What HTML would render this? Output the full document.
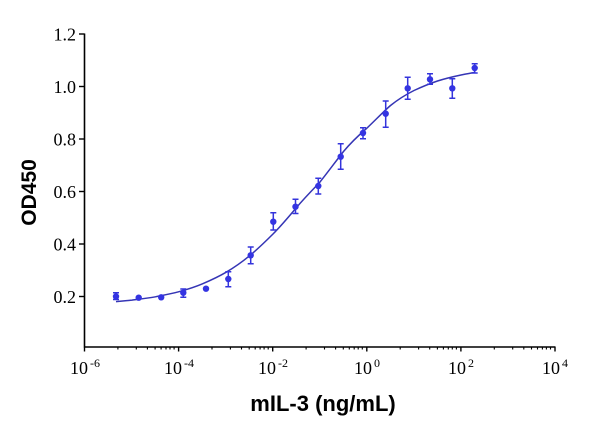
<!DOCTYPE html>
<html>
<head>
<meta charset="utf-8">
<style>
html,body{margin:0;padding:0;background:#fff}
svg{display:block}
</style>
</head>
<body>
<svg width="600" height="426" viewBox="0 0 600 426" xmlns="http://www.w3.org/2000/svg">
<rect width="600" height="426" fill="#fff"/>
<g stroke="#000" stroke-width="1.6" fill="none">
<line x1="84.5" y1="33.5" x2="84.5" y2="347.5"/>
<line x1="84" y1="347" x2="555.5" y2="347"/>
</g>
<g stroke="#000" stroke-width="1.4">
<line x1="79" y1="34" x2="84.5" y2="34"/>
<line x1="79" y1="86.5" x2="84.5" y2="86.5"/>
<line x1="79" y1="139" x2="84.5" y2="139"/>
<line x1="79" y1="191.5" x2="84.5" y2="191.5"/>
<line x1="79" y1="244" x2="84.5" y2="244"/>
<line x1="79" y1="296.5" x2="84.5" y2="296.5"/>
</g>
<g font-family="'Liberation Serif', serif" font-size="18" fill="#000" text-anchor="end">
<text x="76" y="40.5">1.2</text>
<text x="76" y="93">1.0</text>
<text x="76" y="145.5">0.8</text>
<text x="76" y="198">0.6</text>
<text x="76" y="250.5">0.4</text>
<text x="76" y="303">0.2</text>
</g>
<g stroke="#000" stroke-width="1.4">
<line x1="84.5" y1="347" x2="84.5" y2="351.5"/>
<line x1="178.6" y1="347" x2="178.6" y2="351.5"/>
<line x1="272.7" y1="347" x2="272.7" y2="351.5"/>
<line x1="366.8" y1="347" x2="366.8" y2="351.5"/>
<line x1="460.9" y1="347" x2="460.9" y2="351.5"/>
<line x1="555" y1="347" x2="555" y2="351.5"/>
</g>
<g stroke="#000" stroke-width="1.1">
<path d="M117.9,347v2.5M136.3,347v2.5M147.4,347v2.5M155.1,347v2.5M161.1,347v2.5M166,347v2.5M170,347v2.5M174.1,347v2.5"/>
<path d="M212,347v2.5M230.4,347v2.5M241.5,347v2.5M249.2,347v2.5M255.2,347v2.5M260.1,347v2.5M264.1,347v2.5M268.2,347v2.5"/>
<path d="M306.1,347v2.5M324.5,347v2.5M335.6,347v2.5M343.3,347v2.5M349.3,347v2.5M354.2,347v2.5M358.2,347v2.5M362.3,347v2.5"/>
<path d="M400.2,347v2.5M418.6,347v2.5M429.7,347v2.5M437.4,347v2.5M443.4,347v2.5M448.3,347v2.5M452.3,347v2.5M456.4,347v2.5"/>
<path d="M494.3,347v2.5M512.7,347v2.5M523.8,347v2.5M531.5,347v2.5M537.5,347v2.5M542.4,347v2.5M546.4,347v2.5M550.5,347v2.5"/>
</g>
<g font-family="'Liberation Serif', serif" font-size="18" fill="#000" text-anchor="middle">
<text x="85" y="374">10<tspan dx="2" dy="-7" font-size="12">-6</tspan></text>
<text x="179" y="374">10<tspan dx="2" dy="-7" font-size="12">-4</tspan></text>
<text x="273" y="374">10<tspan dx="2" dy="-7" font-size="12">-2</tspan></text>
<text x="367" y="374">10<tspan dx="2" dy="-7" font-size="12">0</tspan></text>
<text x="461" y="374">10<tspan dx="2" dy="-7" font-size="12">2</tspan></text>
<text x="555" y="374">10<tspan dx="2" dy="-7" font-size="12">4</tspan></text>
</g>
<text x="323" y="411" font-family="'Liberation Sans', Arial, sans-serif" font-weight="bold" font-size="22" text-anchor="middle" fill="#000">mIL-3 (ng/mL)</text>
<text transform="translate(36,192.5) rotate(-90)" font-family="'Liberation Sans', Arial, sans-serif" font-weight="bold" font-size="21" text-anchor="middle" fill="#000">OD450</text>
<path d="M116,301.6 C121,301.1 127,300.6 132,300.1 C140,299.1 148,298.2 155.5,296.8 C163,295.3 171,293.8 179,291.7 C187,289.5 195,287 202.5,283.8 C210,280.6 218,277 226,272.3 C234,267.6 242,262 249.5,255.8 C257,249.6 265,242 273,234 C281,226 289,216.5 296.5,207.5 C304,198.5 312,190.5 320,182 C328,172 336,161 343.5,151.5 C351,142.5 359,135 367,128 C375,120.5 383,112 390.5,105.5 C398,99.5 406,94.5 414,90.5 C422,86.8 430,83.5 437.5,81 C445,78.6 453,76.7 461,75 C466,74 470,73.2 474.6,72.5" fill="none" stroke="#3535b5" stroke-width="1.5"/>
<g stroke="#3434dc" stroke-width="1.5" fill="none">
<path d="M116,292.7V299.5M113,292.7h6M113,299.5h6"/>
<path d="M183.3,289V297.3M180.3,289h6M180.3,297.3h6"/>
<path d="M228.3,271.7V286.7M225.3,271.7h6M225.3,286.7h6"/>
<path d="M250.7,247V263.7M247.7,247h6M247.7,263.7h6"/>
<path d="M273.3,212.7V230M270.3,212.7h6M270.3,230h6"/>
<path d="M295.5,199.3V213.5M292.5,199.3h6M292.5,213.5h6"/>
<path d="M318.3,178.3V194M315.3,178.3h6M315.3,194h6"/>
<path d="M340.7,143.7V169.3M337.7,143.7h6M337.7,169.3h6"/>
<path d="M363,127.7V138.7M360,127.7h6M360,138.7h6"/>
<path d="M385.7,101V127.3M382.7,101h6M382.7,127.3h6"/>
<path d="M407.7,77.3V99.3M404.7,77.3h6M404.7,99.3h6"/>
<path d="M430,73.7V84.3M427,73.7h6M427,84.3h6"/>
<path d="M452.3,78.7V98.3M449.3,78.7h6M449.3,98.3h6"/>
<path d="M474.7,63.7V73M471.7,63.7h6M471.7,73h6"/>
</g>
<g fill="#3434e2">
<circle cx="116" cy="296.5" r="3.2"/>
<circle cx="138.7" cy="297.7" r="3.2"/>
<circle cx="161.2" cy="297.3" r="3.2"/>
<circle cx="183.3" cy="292.7" r="3.2"/>
<circle cx="206" cy="288.7" r="3.2"/>
<circle cx="228.3" cy="279" r="3.2"/>
<circle cx="250.7" cy="255.3" r="3.2"/>
<circle cx="273.3" cy="221.7" r="3.2"/>
<circle cx="295.5" cy="206.7" r="3.2"/>
<circle cx="318.3" cy="186" r="3.2"/>
<circle cx="340.7" cy="156.7" r="3.2"/>
<circle cx="363" cy="133" r="3.2"/>
<circle cx="385.7" cy="113.7" r="3.2"/>
<circle cx="407.7" cy="88.3" r="3.2"/>
<circle cx="430" cy="79.3" r="3.2"/>
<circle cx="452.3" cy="88.3" r="3.2"/>
<circle cx="474.7" cy="68" r="3.2"/>
</g>
</svg>
</body>
</html>
